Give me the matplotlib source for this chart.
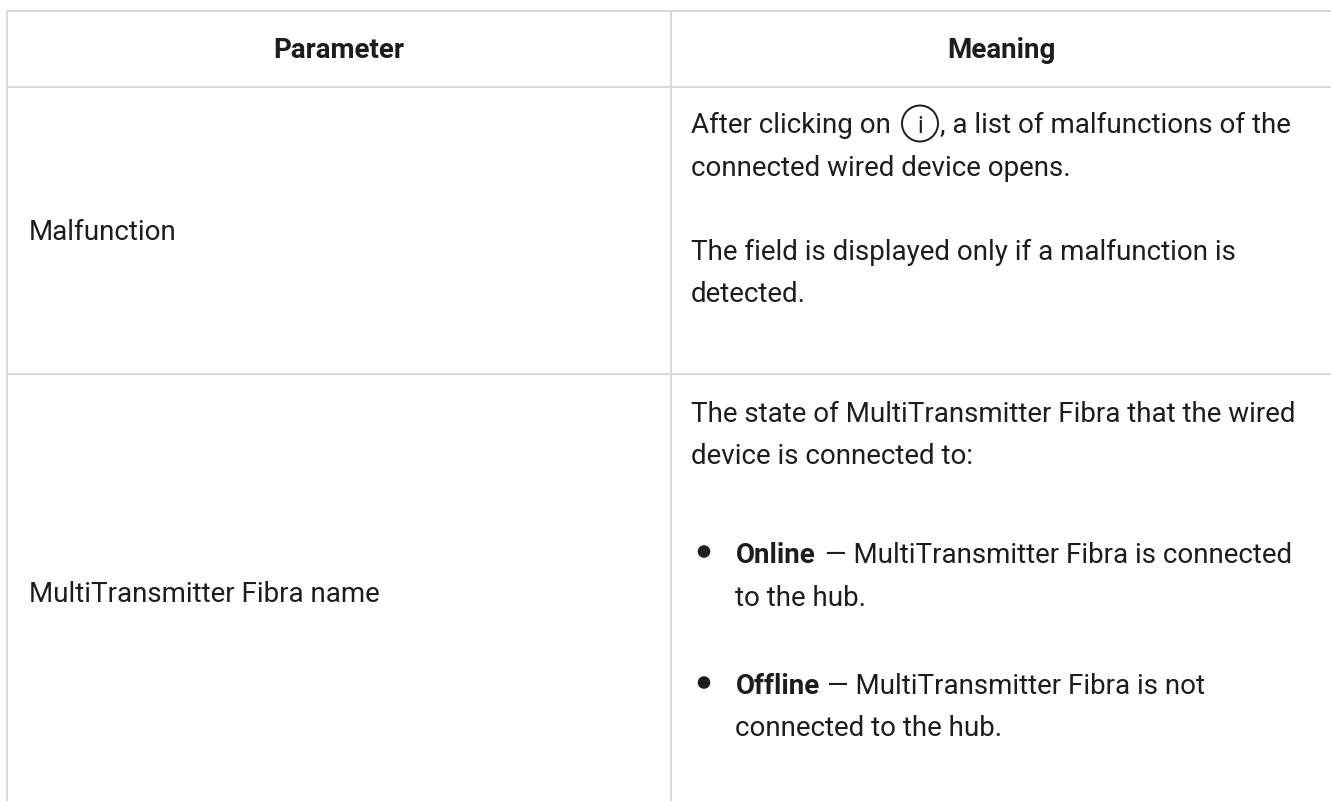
import matplotlib
matplotlib.use('Agg')
import matplotlib.pyplot as plt
from matplotlib.patches import Circle

W = 1331
H = 801

headers = ['Parameter', 'Meaning']
row_names = ['Malfunction', 'MultiTransmitter Fibra name']

# right column lines, as (baseline y, text)
plain_lines = [
	(133, 'After clicking on'),
	(176, 'connected wired device opens.'),
	(260, 'The field is displayed only if a malfunction is'),
	(302, 'detected.'),
	(422, 'The state of MultiTransmitter Fibra that the wired'),
	(464, 'device is connected to:'),
]
after_icon = ', a list of malfunctions of the'
# baseline y, bold part, rest, gap after the bold part
bullets = [
	(563, 'Online', ' — MultiTransmitter Fibra is connected', 2.5),
	(694, 'Offline', ' — MultiTransmitter Fibra is not', 0),
]
tails = [(606, 'to the hub.'), (736, 'connected to the hub.')]


def main():
	plt.rcParams['font.family'] = ['Roboto', 'DejaVu Sans']
	fig = plt.figure(figsize=(W/100, H/100), dpi=100)
	ax = fig.add_axes([0, 0, 1, 1])
	ax.set_xlim(0, W)
	ax.set_ylim(H, 0)
	ax.axis('off')
	col = '#d9d9d9'
	ink = '#1d1d1f'
	fs = 20

	for y in [11, 87, 374]:
		ax.plot([6, W], [y, y], color=col, lw=1.44, solid_capstyle='butt')
	ax.plot([6.5, 6.5], [10, H], color=col, lw=1.44, solid_capstyle='butt')
	ax.plot([671, 671], [10, H], color=col, lw=1.44, solid_capstyle='butt')

	ax.text(339, 58, headers[0], ha='center', va='baseline', fontsize=fs, fontweight='bold', color=ink)
	ax.text(1001, 58, headers[1], ha='center', va='baseline', fontsize=fs, fontweight='bold', color=ink)
	ax.text(29, 240, row_names[0], va='baseline', fontsize=fs, color=ink)
	ax.text(29, 602, row_names[1], va='baseline', fontsize=fs, color=ink)

	for y, s in plain_lines:
		ax.text(691, y, s, va='baseline', fontsize=fs, color=ink)
	ax.text(940, 133, after_icon, va='baseline', fontsize=fs, color=ink)

	# info icon
	ax.add_patch(Circle((920, 123.5), 18, fill=False, ec=ink, lw=1.4))
	ax.text(920, 133, 'i', ha='center', va='baseline', fontsize=17, color=ink)

	r = fig.canvas.get_renderer()
	for y, b, s, gap in bullets:
		ax.add_patch(Circle((704, y-11.5), 6.3, color=ink, lw=0))
		t = ax.text(735.5, y, b, va='baseline', fontsize=fs, fontweight='bold', color=ink)
		x1 = t.get_window_extent(r).x1
		ax.text(x1+gap, y, s, va='baseline', fontsize=fs, color=ink)
	for y, s in tails:
		ax.text(735, y, s, va='baseline', fontsize=fs, color=ink)
	plt.savefig('out.png', dpi=100)


if __name__ == '__main__':
	main()
